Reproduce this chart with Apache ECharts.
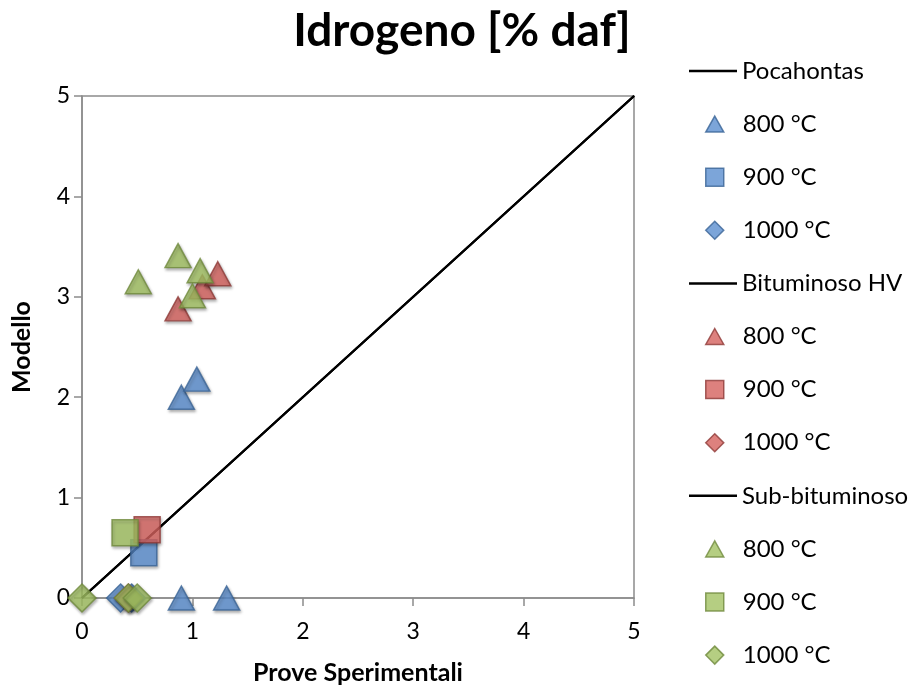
<!DOCTYPE html>
<html><head><meta charset="utf-8">
<script src="https://cdn.jsdelivr.net/npm/echarts@6/dist/echarts.min.js"></script>
<style>html,body{margin:0;padding:0;background:#fff}#c{width:916px;height:690px}</style>
</head><body><div id="c"></div>
<script>
// Data
var diagonal = [[0, 0], [5, 5]];
var poc800 = [[0.90, 2.00], [1.04, 2.18], [0.90, 0], [1.31, 0]];
var poc900 = [[0.56, 0.45]];
var poc1000 = [[0.35, 0], [0.45, 0]];
var bit800 = [[0.87, 2.88], [1.09, 3.10], [1.23, 3.23]];
var bit900 = [[0.59, 0.68]];
var bit1000 = [[0.42, 0]];
var sub800 = [[0.51, 3.15], [0.87, 3.41], [1.07, 3.26], [1.00, 3.01]];
var sub900 = [[0.39, 0.65]];
var sub1000 = [[0, 0], [0.42, 0], [0.50, 0]];
var groupNames = ['Pocahontas', 'Bituminoso HV', 'Sub-bituminoso'];
var tempNames = ['800 °C', '900 °C', '1000 °C'];

var FONT = 'Lato';
var colors = [
  {fill: '#5b8fcf', border: '#3a6496'},
  {fill: '#d5625e', border: '#8e3a37'},
  {fill: '#a2c263', border: '#6f8a3c'}
];
var groups = [[poc800, poc900, poc1000], [bit800, bit900, bit1000], [sub800, sub900, sub1000]];
var symbols = ['triangle', 'rect', 'diamond'];
var sizes = [[26, 24], [26, 26], [28, 28]];
var legSizes = [[18, 16], [18, 18], [18, 18]];

var series = [];
var legends = [];
var row = 0;
function legendTop(r) { return 54 + r * 53.1; }
groups.forEach(function (g, gi) {
  series.push({
    name: groupNames[gi], type: 'line', data: diagonal, symbol: 'none', showSymbol: false,
    lineStyle: {color: '#000', width: 2}, itemStyle: {color: '#000'},
    z: 1, silent: true, animation: false
  });
  legends.push({
    data: [{name: groupNames[gi], icon: 'rect'}],
    left: 684, top: legendTop(row), itemWidth: 48, itemHeight: 2.5,
    itemStyle: {color: '#000', borderWidth: 0},
    textStyle: {fontFamily: FONT, fontSize: 24, color: '#000', lineHeight: 24, padding: [0, 0, 0, 0]},
    selectedMode: false
  });
  row++;
  g.forEach(function (d, ti) {
    var nm = tempNames[ti] + '\u200b'.repeat(gi);
    series.push({
      name: nm, type: 'scatter', data: d, clip: false,
      symbol: symbols[ti], symbolSize: sizes[ti],
      itemStyle: {color: colors[gi].fill, borderColor: colors[gi].border, borderWidth: 1.5,
        shadowColor: 'rgba(0,0,0,0.35)', shadowBlur: 3, shadowOffsetX: 1, shadowOffsetY: 2},
      z: 3, animation: false
    });
    legends.push({
      data: [{name: nm, icon: symbols[ti]}],
      left: 700, top: legendTop(row), itemWidth: legSizes[ti][0], itemHeight: legSizes[ti][1],
      itemStyle: {borderWidth: 1.5, borderColor: colors[gi].border, color: colors[gi].fill, shadowBlur: 0},
      textStyle: {fontFamily: FONT, fontSize: 24, color: '#000', lineHeight: 24, padding: [0, 0, 0, 14]},
      formatter: function (n) { return n.replace(/\u200b/g, ''); },
      selectedMode: false
    });
    row++;
  });
});

var chart = echarts.init(document.getElementById('c'));
chart.setOption({
  backgroundColor: '#fff',
  animation: false,
  title: {text: 'Idrogeno [% daf]', left: 457, top: 3, textAlign: 'center',
    textStyle: {fontFamily: FONT, fontSize: 46, fontWeight: 'bold', color: '#000'}},
  grid: {left: 82, right: 282, top: 96, bottom: 89, show: true, borderColor: '#8c8c8c', borderWidth: 1.5},
  legend: legends,
  xAxis: {
    type: 'value', min: 0, max: 5, interval: 1,
    name: 'Prove Sperimentali', nameLocation: 'middle', nameGap: 62,
    nameTextStyle: {fontFamily: FONT, fontSize: 25, fontWeight: 'bold', color: '#000'},
    axisLine: {show: true, lineStyle: {color: '#8c8c8c', width: 1.5}},
    axisTick: {show: true, inside: false, length: 8, lineStyle: {color: '#8c8c8c', width: 1.5}},
    axisLabel: {fontFamily: FONT, fontSize: 23, color: '#000', margin: 22},
    splitLine: {show: false}
  },
  yAxis: {
    type: 'value', min: 0, max: 5, interval: 1,
    name: 'Modello', nameLocation: 'middle', nameGap: 48,
    nameTextStyle: {fontFamily: FONT, fontSize: 25, fontWeight: 'bold', color: '#000'},
    axisLine: {show: true, lineStyle: {color: '#8c8c8c', width: 1.5}},
    axisTick: {show: true, inside: false, length: 8, lineStyle: {color: '#8c8c8c', width: 1.5}},
    axisLabel: {fontFamily: FONT, fontSize: 23, color: '#000', margin: 12},
    splitLine: {show: false}
  },
  series: series
});
</script></body></html>
